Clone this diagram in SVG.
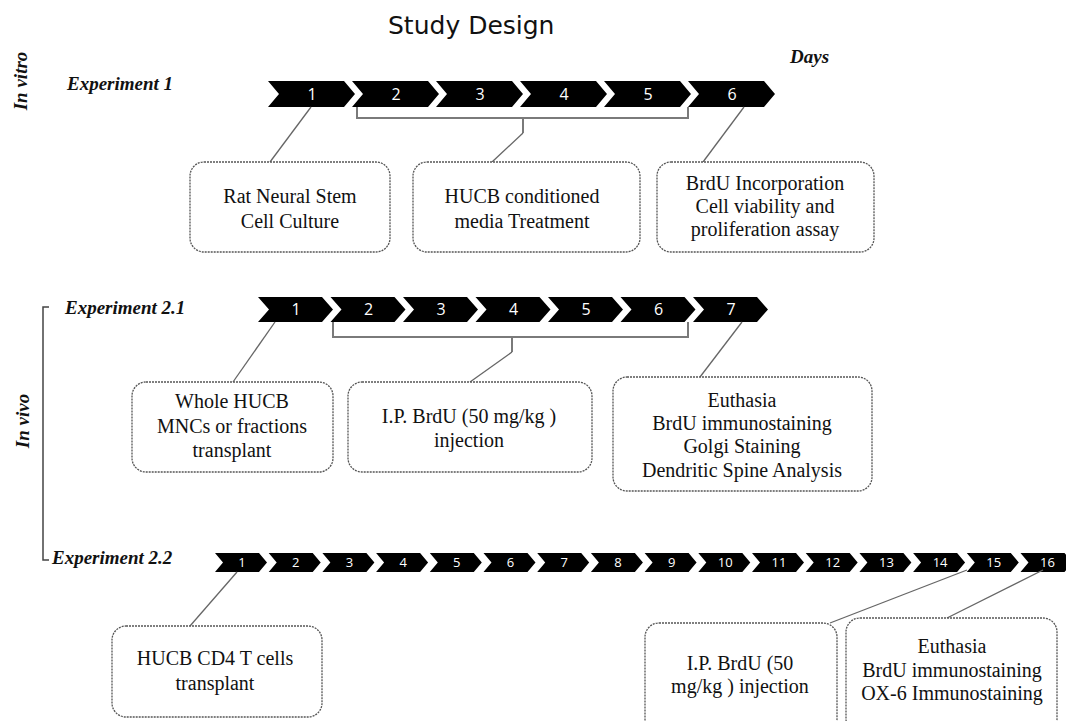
<svg xmlns="http://www.w3.org/2000/svg" xmlns:xlink="http://www.w3.org/1999/xlink" width="1066" height="721" viewBox="0 0 1066 721">
<style>
.title{font-family:"Comic Sans MS","DejaVu Sans",sans-serif;font-size:25px;fill:#111}
.lab{font-family:"Liberation Serif",serif;font-weight:bold;font-style:italic;font-size:19px;fill:#111}
.num{font-family:"Open Sans","Liberation Sans",sans-serif;font-size:16px;fill:#fff;text-anchor:middle}
.num2{font-family:"Open Sans","Liberation Sans",sans-serif;font-size:13px;fill:#fff;text-anchor:middle}
.box{fill:#fff;stroke:#555;stroke-width:1.3;stroke-dasharray:2 1}
.bt{font-family:"Liberation Serif",serif;font-size:20px;fill:#111;text-anchor:middle}
.con{stroke:#666;stroke-width:1.3;fill:none}
.br{stroke:#7a7a7a;stroke-width:2;fill:none}
.chev{fill:#000}
</style>
<defs>
<path id="c1" class="chev" d="M0,0 H76 L87,13 L76,26 H0 L11,13 Z"/>
<path id="c2" class="chev" d="M0,0 H64 L75,12.5 L64,25 H0 L11,12.5 Z"/>
<path id="c3" class="chev" d="M0,0 H44 L52,9.5 L44,19 H0 L8,9.5 Z"/>
</defs>
<rect width="1066" height="721" fill="#fff"/>
<text class="title" x="388" y="34">Study Design</text>
<text class="lab" transform="translate(27,81) rotate(-90)" text-anchor="middle">In vitro</text>
<text class="lab" transform="translate(29,421) rotate(-90)" text-anchor="middle">In vivo</text>
<text class="lab" x="67" y="90">Experiment 1</text>
<text class="lab" x="65" y="314">Experiment 2.1</text>
<text class="lab" x="52" y="564">Experiment 2.2</text>
<text class="lab" x="790" y="63">Days</text>
<path d="M49,307 H43 V560 H49" stroke="#444" stroke-width="1.5" fill="none"/>

<g id="timeline1">
<g id="t1d1"><use xlink:href="#c1" x="268" y="81"/><text class="num" x="312" y="100">1</text></g>
<g id="t1d2"><use xlink:href="#c1" x="352" y="81"/><text class="num" x="396" y="100">2</text></g>
<g id="t1d3"><use xlink:href="#c1" x="436" y="81"/><text class="num" x="480" y="100">3</text></g>
<g id="t1d4"><use xlink:href="#c1" x="520" y="81"/><text class="num" x="564" y="100">4</text></g>
<g id="t1d5"><use xlink:href="#c1" x="604" y="81"/><text class="num" x="648" y="100">5</text></g>
<g id="t1d6"><use xlink:href="#c1" x="688" y="81"/><text class="num" x="732" y="100">6</text></g>
</g>

<g id="timeline21">
<g id="t2d1"><use xlink:href="#c2" x="258" y="297"/><text class="num" x="296" y="315">1</text></g>
<g id="t2d2"><use xlink:href="#c2" x="330.5" y="297"/><text class="num" x="368.5" y="315">2</text></g>
<g id="t2d3"><use xlink:href="#c2" x="403" y="297"/><text class="num" x="441" y="315">3</text></g>
<g id="t2d4"><use xlink:href="#c2" x="475.5" y="297"/><text class="num" x="513.5" y="315">4</text></g>
<g id="t2d5"><use xlink:href="#c2" x="548" y="297"/><text class="num" x="586" y="315">5</text></g>
<g id="t2d6"><use xlink:href="#c2" x="620.5" y="297"/><text class="num" x="658.5" y="315">6</text></g>
<g id="t2d7"><use xlink:href="#c2" x="693" y="297"/><text class="num" x="731" y="315">7</text></g>
</g>

<g id="timeline22">
<g id="t3d1"><use xlink:href="#c3" x="215" y="553"/><text class="num2" x="242" y="567">1</text></g>
<g id="t3d2"><use xlink:href="#c3" x="268.7" y="553"/><text class="num2" x="295.7" y="567">2</text></g>
<g id="t3d3"><use xlink:href="#c3" x="322.4" y="553"/><text class="num2" x="349.4" y="567">3</text></g>
<g id="t3d4"><use xlink:href="#c3" x="376.1" y="553"/><text class="num2" x="403.1" y="567">4</text></g>
<g id="t3d5"><use xlink:href="#c3" x="429.8" y="553"/><text class="num2" x="456.8" y="567">5</text></g>
<g id="t3d6"><use xlink:href="#c3" x="483.5" y="553"/><text class="num2" x="510.5" y="567">6</text></g>
<g id="t3d7"><use xlink:href="#c3" x="537.2" y="553"/><text class="num2" x="564.2" y="567">7</text></g>
<g id="t3d8"><use xlink:href="#c3" x="590.9" y="553"/><text class="num2" x="617.9" y="567">8</text></g>
<g id="t3d9"><use xlink:href="#c3" x="644.6" y="553"/><text class="num2" x="671.6" y="567">9</text></g>
<g id="t3d10"><use xlink:href="#c3" x="698.3" y="553"/><text class="num2" x="725.3" y="567">10</text></g>
<g id="t3d11"><use xlink:href="#c3" x="752" y="553"/><text class="num2" x="779" y="567">11</text></g>
<g id="t3d12"><use xlink:href="#c3" x="805.7" y="553"/><text class="num2" x="832.7" y="567">12</text></g>
<g id="t3d13"><use xlink:href="#c3" x="859.4" y="553"/><text class="num2" x="886.4" y="567">13</text></g>
<g id="t3d14"><use xlink:href="#c3" x="913.1" y="553"/><text class="num2" x="940.1" y="567">14</text></g>
<g id="t3d15"><use xlink:href="#c3" x="966.8" y="553"/><text class="num2" x="993.8" y="567">15</text></g>
<g id="t3d16"><use xlink:href="#c3" x="1020.5" y="553"/><text class="num2" x="1047.5" y="567">16</text></g>
</g>

<g id="connectors">
<path class="br" d="M357,107 V118 H688 V107 M523,118 V133"/>
<path class="br" d="M333,322 V337 H688 V322 M512,337 V352"/>
<path class="con" d="M311,107 L270,162"/>
<path class="con" d="M523,133 L492,162"/>
<path class="con" d="M744,107 L703,162"/>
<path class="con" d="M275,322 L233,382"/>
<path class="con" d="M512,352 L470,382"/>
<path class="con" d="M742,322 L700,377"/>
<path class="con" d="M237,572 L190,626"/>
<path class="con" d="M967,570 L830,623"/>
<path class="con" d="M1043,570 L947,618"/>
</g>

<g id="box-rat">
<rect class="box" x="190" y="162" width="200" height="90" rx="14"/>
<text class="bt" x="290" y="203">Rat Neural Stem</text>
<text class="bt" x="290" y="228">Cell Culture</text>
</g>
<g id="box-hucb-media">
<rect class="box" x="413" y="162" width="227" height="90" rx="14"/>
<text class="bt" x="522" y="203">HUCB conditioned</text>
<text class="bt" x="522" y="228">media Treatment</text>
</g>
<g id="box-brdu-inc">
<rect class="box" x="657" y="162" width="217" height="90" rx="14"/>
<text class="bt" x="765" y="190">BrdU Incorporation</text>
<text class="bt" x="765" y="213">Cell viability and</text>
<text class="bt" x="765" y="236">proliferation assay</text>
</g>

<g id="box-whole">
<rect class="box" x="132" y="382" width="201" height="90" rx="14"/>
<text class="bt" x="232" y="408">Whole HUCB</text>
<text class="bt" x="232" y="433">MNCs or fractions</text>
<text class="bt" x="232" y="457">transplant</text>
</g>
<g id="box-ip1">
<rect class="box" x="348" y="382" width="244" height="90" rx="14"/>
<text class="bt" x="469" y="423">I.P. BrdU (50 mg/kg )</text>
<text class="bt" x="469" y="447">injection</text>
</g>
<g id="box-euth1">
<rect class="box" x="613" y="377" width="259" height="114" rx="14"/>
<text class="bt" x="742" y="407">Euthasia</text>
<text class="bt" x="742" y="430">BrdU immunostaining</text>
<text class="bt" x="742" y="453">Golgi Staining</text>
<text class="bt" x="742" y="477">Dendritic Spine Analysis</text>
</g>

<g id="box-cd4">
<rect class="box" x="112" y="626" width="210" height="91" rx="14"/>
<text class="bt" x="215" y="665">HUCB CD4 T cells</text>
<text class="bt" x="215" y="690">transplant</text>
</g>
<g id="box-ip2">
<rect class="box" x="645" y="623" width="192" height="110" rx="14"/>
<text class="bt" x="740" y="670">I.P. BrdU (50</text>
<text class="bt" x="740" y="693">mg/kg ) injection</text>
</g>
<g id="box-euth2">
<rect class="box" x="846" y="618" width="211" height="115" rx="14"/>
<text class="bt" x="952" y="653">Euthasia</text>
<text class="bt" x="952" y="677">BrdU immunostaining</text>
<text class="bt" x="952" y="700">OX-6 Immunostaining</text>
</g>
</svg>
